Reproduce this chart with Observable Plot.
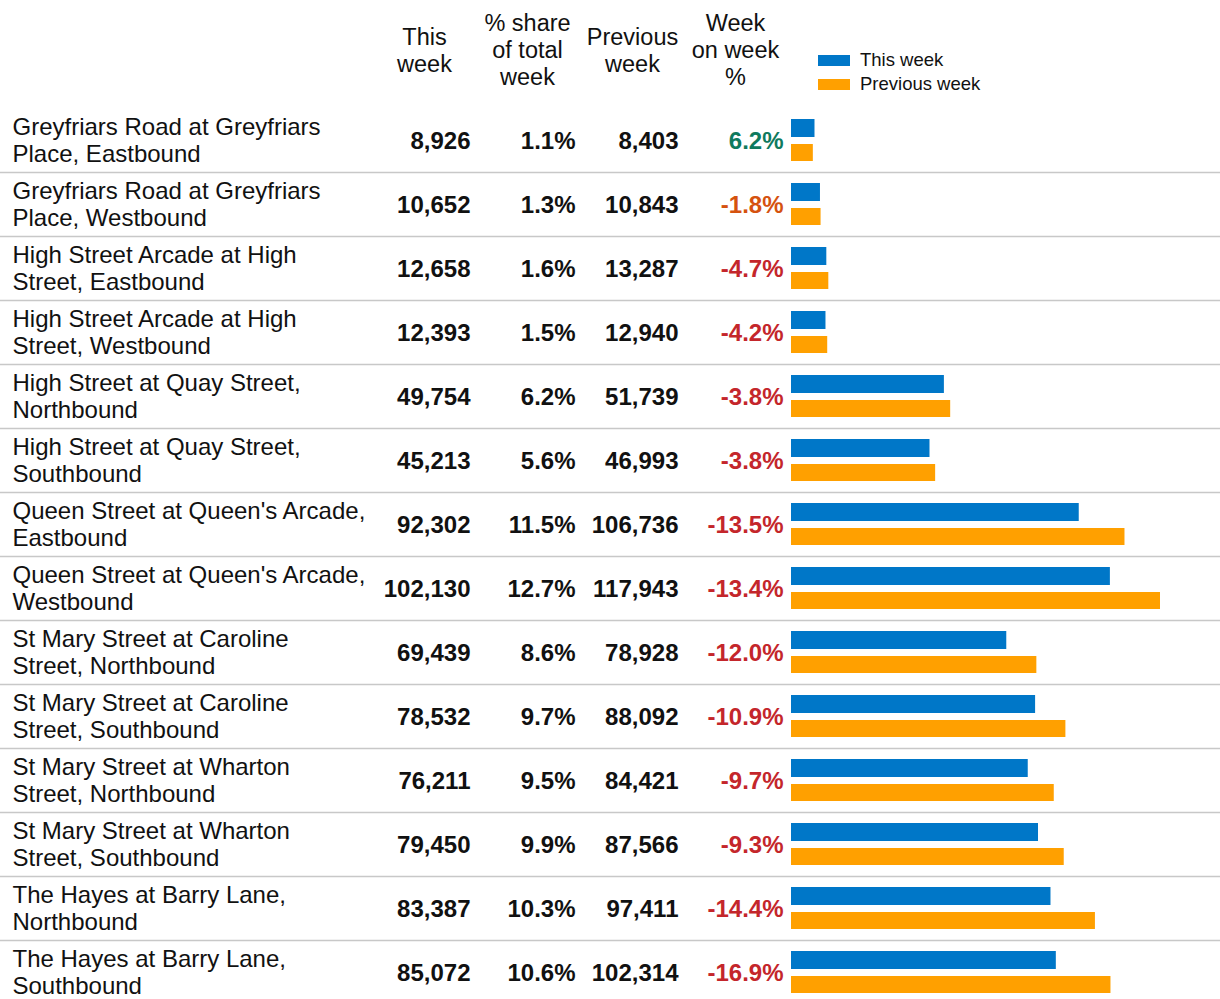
<!DOCTYPE html>
<html>
<head>
<meta charset="utf-8">
<script src="https://cdn.jsdelivr.net/npm/d3@7"></script>
<script src="https://cdn.jsdelivr.net/npm/@observablehq/plot@0.6"></script>
<style>
  html, body { margin: 0; padding: 0; background: #fff; }
  body { font-family: "Liberation Sans", Arial, sans-serif; }
  #wrap { position: relative; width: 1220px; height: 999px; overflow: hidden; }
  #legend { position: absolute; left: 818px; top: 48px; font-size: 18.5px; color: #111; line-height: 24px; }
  #legend .item { display: flex; align-items: center; height: 24px; }
  #legend .sw { width: 32px; height: 11px; margin-right: 10px; }
</style>
</head>
<body>
<div id="wrap"><div id="legend"></div></div>
<script>
const locations = [
  "Greyfriars Road at Greyfriars\nPlace, Eastbound",
  "Greyfriars Road at Greyfriars\nPlace, Westbound",
  "High Street Arcade at High\nStreet, Eastbound",
  "High Street Arcade at High\nStreet, Westbound",
  "High Street at Quay Street,\nNorthbound",
  "High Street at Quay Street,\nSouthbound",
  "Queen Street at Queen's Arcade,\nEastbound",
  "Queen Street at Queen's Arcade,\nWestbound",
  "St Mary Street at Caroline\nStreet, Northbound",
  "St Mary Street at Caroline\nStreet, Southbound",
  "St Mary Street at Wharton\nStreet, Northbound",
  "St Mary Street at Wharton\nStreet, Southbound",
  "The Hayes at Barry Lane,\nNorthbound",
  "The Hayes at Barry Lane,\nSouthbound"
];
const thisWeek = [8926, 10652, 12658, 12393, 49754, 45213, 92302, 102130, 69439, 78532, 76211, 79450, 83387, 85072];
const shareOfTotal = [1.1, 1.3, 1.6, 1.5, 6.2, 5.6, 11.5, 12.7, 8.6, 9.7, 9.5, 9.9, 10.3, 10.6];
const previousWeek = [8403, 10843, 13287, 12940, 51739, 46993, 106736, 117943, 78928, 88092, 84421, 87566, 97411, 102314];
const weekOnWeek = [6.2, -1.8, -4.7, -4.2, -3.8, -3.8, -13.5, -13.4, -12.0, -10.9, -9.7, -9.3, -14.4, -16.9];
const headers = ["This\nweek", "% share\nof total\nweek", "Previous\nweek", "Week\non week\n%"];
const seriesNames = ["This week", "Previous week"];
const seriesColors = ["#0077c8", "#ffa000"];

const rows = locations.map((name, i) => ({
  name, thisWeek: thisWeek[i], share: shareOfTotal[i], prev: previousWeek[i], wow: weekOnWeek[i]
}));

const fmtInt = d3.format(",");
const fmtPct = d => d.toFixed(1) + "%";
const wowColor = d => d >= 0 ? "#0f7a5e" : (d > -2 ? "#d5520f" : "#c4262b");

const font = '"Liberation Sans", Arial, sans-serif';
const numStyle = {y: "name", frameAnchor: "left", textAnchor: "end", fontWeight: "bold", fontSize: 24, fontFamily: font};
const headerX = [424, 527, 632, 735];

const chart = Plot.plot({
  width: 1220,
  height: 999,
  margin: 0,
  style: {fontFamily: font, color: "#111", background: "#fff"},
  x: {domain: [0, 117943], range: [786.2, 1160], axis: null},
  y: {type: "band", domain: locations, range: [108, 1004], padding: 0, axis: null},
  marks: [
    Plot.ruleY(locations.slice(0, -1), {y: d => d, dy: 32, stroke: "#c8c8c8", strokeWidth: 1.6}),
    Plot.barX(rows, {y: "name", x1: 0, x2: "thisWeek", fill: seriesColors[0], insetLeft: 4.8, insetTop: 11, insetBottom: 35}),
    Plot.barX(rows, {y: "name", x1: 0, x2: "prev", fill: seriesColors[1], insetLeft: 4.8, insetTop: 36, insetBottom: 11}),
    Plot.text(rows, {y: "name", text: "name", frameAnchor: "left", dx: 12, dy: -1, textAnchor: "start", fontSize: 24, lineHeight: 1.12, fill: "#111", fontFamily: font}),
    Plot.text(rows, {...numStyle, text: d => fmtInt(d.thisWeek), dx: 470, dy: 1, fill: "#111"}),
    Plot.text(rows, {...numStyle, text: d => fmtPct(d.share), dx: 575, dy: 1, fill: "#111"}),
    Plot.text(rows, {...numStyle, text: d => fmtInt(d.prev), dx: 678, dy: 1, fill: "#111"}),
    Plot.text(rows, {...numStyle, text: d => fmtPct(d.wow), dx: 783, dy: 1, fill: d => wowColor(d.wow)}),
    ...headers.map((h, i) => Plot.text([h], {frameAnchor: "top-left", dx: headerX[i], dy: 49, textAnchor: "middle", lineAnchor: "middle", fontSize: 23.5, lineHeight: 1.15, fill: "#111", fontFamily: font}))
  ]
});

const wrap = document.getElementById("wrap");
wrap.insertBefore(chart, wrap.firstChild);
const legend = document.getElementById("legend");
seriesNames.forEach((n, i) => {
  const item = document.createElement("div");
  item.className = "item";
  const sw = document.createElement("span");
  sw.className = "sw";
  sw.style.background = seriesColors[i];
  const lb = document.createElement("span");
  lb.textContent = n;
  item.appendChild(sw); item.appendChild(lb);
  legend.appendChild(item);
});
</script>
</body>
</html>
